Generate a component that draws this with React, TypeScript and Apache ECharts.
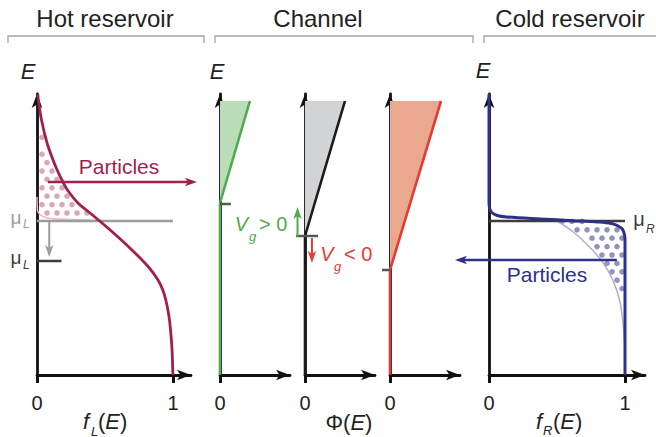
import React, { useEffect, useRef } from 'react';
import * as echarts from 'echarts';

type P = [number, number];

// ---------------- data (E: energy, arbitrary units up from the f axis; f / Φ dimensionless) ----------------
// Hot reservoir: broad Fermi occupation f_L(E)
const hotFermi: P[] = [
  [0.006, 281], [0.01, 275], [0.033, 255], [0.074, 232], [0.118, 215], [0.158, 202], [0.191, 193],
  [0.224, 185], [0.301, 172], [0.39, 162], [0.478, 152], [0.596, 138], [0.721, 122], [0.82, 108],
  [0.89, 95], [0.925, 85], [0.947, 75], [0.969, 60], [0.982, 45], [0.993, 25], [0.999, 0],
];
// Hot reservoir: faint reference (cold) occupation at the original μ_L
const hotColdRef: P[] = [[0, 178], [0.003, 165], [0.044, 158.5], [0.118, 156.3], [0.22, 155.7], [0.37, 155], [0.46, 154.5]];
// Cold reservoir: sharp Fermi occupation f_R(E)
const coldFermi: P[] = [
  [0, 281], [0, 175], [0.001, 170], [0.006, 166], [0.02, 162.5], [0.06, 159.5], [0.13, 158], [0.375, 156],
  [0.62, 154.3], [0.8, 153], [0.9, 151.5], [0.95, 149], [0.98, 146], [0.995, 141], [1, 135], [1, 0],
];
// Cold reservoir: faint reference (hot) occupation below μ_R
const coldHotRef: P[] = [[0.5, 154], [0.62, 143], [0.74, 128], [0.84, 112], [0.91, 95], [0.96, 75], [0.985, 52], [1.0, 25]];

const muL = 154;          // original chemical potential, hot side
const muLShifted = 114;   // lowered chemical potential, hot side
const muR = 154;          // chemical potential, cold side
const hotParticlesE = 193;
const coldParticlesE = 115;

// Channel transmission Φ(E): zero below threshold, linear above
const channelThreshold = [172, 139, 105];
const channelTopE = 274;
const channelTopPhi = [0.22, 0.294, 0.375];

const fTicks = [0, 1];
const phiTicks = [0];

// ---------------- styling ----------------
const FONT = "'Liberation Sans', Arial, Helvetica, sans-serif";
const CRIMSON = '#a11f4f';
const HOT_LIGHT = '#e8bcc4';
const HOT_DOT = '#dba7b1';
const BLUE = '#2e3184';
const COLD_LIGHT = '#aeaed3';
const COLD_DOT = '#9292c0';
const GREEN = '#4fab4c';
const GREEN_FILL = '#badcb6';
const GRAY_FILL = '#d2d3d5';
const RED = '#e23c36';
const RED_FILL = '#eaa98e';
const MU_GRAY = '#9c9c9c';
const DARK = '#3d3d3d';
const AXIS = '#111';

const PX_PER_UNIT = 136;
const GRID_TOP = 94;
const GRID_BOTTOM = 62;
const panels = [
  { left: 37, width: 154, ticks: fTicks },
  { left: 220, width: 70, ticks: phiTicks },
  { left: 305, width: 70, ticks: phiTicks },
  { left: 390, width: 70, ticks: phiTicks },
  { left: 489, width: 156, ticks: fTicks },
];
const E_MAX = 281;

type Seg = { from: P; to: P; color: string; width: number; arrow?: boolean };

function inside(x: number, y: number, pts: number[][]) {
  let c = false;
  for (let i = 0, j = pts.length - 1; i < pts.length; j = i++) {
    const xi = pts[i][0], yi = pts[i][1], xj = pts[j][0], yj = pts[j][1];
    if ((yi > y) !== (yj > y) && x < ((xj - xi) * (y - yi)) / (yj - yi) + xi) c = !c;
  }
  return c;
}

function dotsRender(poly: P[], color: string) {
  return (_params: any, api: any) => {
    const pts = poly.map((p) => api.coord(p));
    let minX = Infinity, maxX = -Infinity, minY = Infinity, maxY = -Infinity;
    pts.forEach((p: number[]) => {
      minX = Math.min(minX, p[0]); maxX = Math.max(maxX, p[0]);
      minY = Math.min(minY, p[1]); maxY = Math.max(maxY, p[1]);
    });
    const dx = 10, dy = 8.4, r = 2.8;
    const children: any[] = [];
    for (let k = Math.floor(minY / dy); k * dy <= maxY; k++) {
      const y = k * dy + 3;
      const off = k % 2 === 0 ? 0 : dx / 2;
      for (let m = Math.floor(minX / dx) - 1; m * dx <= maxX + dx; m++) {
        const x = m * dx + off + 2;
        if (inside(x, y, pts) && inside(x - r * 0.8, y, pts) && inside(x + r * 0.8, y, pts)) {
          children.push({ type: 'circle', shape: { cx: x, cy: y, r }, style: { fill: color } });
        }
      }
    }
    return { type: 'group', children };
  };
}

function polyRender(poly: P[], fill: string) {
  return (_params: any, api: any) => ({
    type: 'polygon',
    shape: { points: poly.map((p) => api.coord(p)) },
    style: { fill },
  });
}

function segRender(segs: Seg[]) {
  return (params: any, api: any) => {
    const s = segs[params.dataIndex];
    const a = api.coord(s.from);
    const b = api.coord(s.to);
    const children: any[] = [];
    let end = b;
    if (s.arrow) {
      const dx = b[0] - a[0], dy = b[1] - a[1];
      const len = Math.hypot(dx, dy) || 1;
      const ux = dx / len, uy = dy / len;
      const L = 12, W = 4.2, N = 3;
      const bx = b[0] - ux * L, by = b[1] - uy * L;
      const px = -uy, py = ux;
      const notch = [b[0] - ux * (L - N), b[1] - uy * (L - N)];
      children.push({
        type: 'polygon',
        shape: { points: [b, [bx + px * W, by + py * W], notch, [bx - px * W, by - py * W]] },
        style: { fill: s.color },
      });
      end = notch;
    }
    children.unshift({
      type: 'line',
      shape: { x1: a[0], y1: a[1], x2: end[0], y2: end[1] },
      style: { stroke: s.color, lineWidth: s.width },
    });
    return { type: 'group', children };
  };
}

function segSeries(idx: number, segs: Seg[], z: number) {
  return {
    type: 'custom', xAxisIndex: idx, yAxisIndex: idx, z, silent: true, clip: false,
    renderItem: segRender(segs),
    data: segs.map((s) => [s.from[0], s.from[1]]),
  };
}

function lineSeries(idx: number, data: P[], color: string, width: number, z: number, smooth: number | boolean) {
  return {
    type: 'line', xAxisIndex: idx, yAxisIndex: idx, z, silent: true, data,
    symbol: 'none', smooth, lineStyle: { color, width, cap: 'butt', join: 'round' },
  };
}

function label(x: number, y: number, text: string, o: any = {}) {
  const align = o.align ?? 'center';
  const style: any = {
    text, fontFamily: FONT, fontSize: o.size ?? 20, fontStyle: o.italic ? 'italic' : 'normal',
    fill: o.color ?? '#222', align, verticalAlign: 'middle', textAlign: align, textVerticalAlign: 'middle',
  };
  if (o.rich) style.rich = o.rich;
  return { type: 'text', x, y, style, silent: true, z: 10 };
}

function bracket(points: number[][]) {
  return { type: 'polyline', shape: { points }, style: { stroke: '#a3a3a3', lineWidth: 1.3, fill: 'none' }, silent: true };
}

function buildOption() {
  const grid = panels.map((p) => ({ left: p.left, width: p.width, top: GRID_TOP, bottom: GRID_BOTTOM, containLabel: false }));
  const axisLine = { show: true, onZero: false, symbol: ['none', 'arrow'], symbolSize: [8, 14], lineStyle: { color: AXIS, width: 2.8 } };
  const xAxis = panels.map((p, i) => ({
    type: 'value', gridIndex: i, min: 0, max: p.width / PX_PER_UNIT,
    axisLine,
    axisTick: { show: true, customValues: p.ticks, length: 8, lineStyle: { color: AXIS, width: 3 } },
    axisLabel: { show: true, customValues: p.ticks, margin: 18, fontSize: 20, color: '#222', fontFamily: FONT, formatter: (v: number) => String(v) },
    splitLine: { show: false },
  }));
  const yAxis = panels.map((_p, i) => ({
    type: 'value', gridIndex: i, min: 0, max: E_MAX,
    axisLine, axisTick: { show: false }, axisLabel: { show: false }, splitLine: { show: false },
  }));

  const series: any[] = [];

  // ---- Hot reservoir ----
  const hotPoly: P[] = [[0, E_MAX], ...hotFermi.filter((p) => p[1] > 154.6), [0.468, 154.5], ...[...hotColdRef].reverse()];
  series.push({ type: 'custom', xAxisIndex: 0, yAxisIndex: 0, z: 1, silent: true, renderItem: dotsRender(hotPoly, HOT_DOT), data: [[0, 0]] });
  series.push(lineSeries(0, hotColdRef, HOT_LIGHT, 1.5, 2, 0.4));
  series.push(segSeries(0, [
    { from: [0, muL], to: [1, muL], color: MU_GRAY, width: 2.5 },
    { from: [0, muLShifted], to: [0.18, muLShifted], color: DARK, width: 2.5 },
    { from: [0.09, muL], to: [0.09, muLShifted + 4], color: MU_GRAY, width: 2, arrow: true },
  ], 3));
  series.push(lineSeries(0, hotFermi, CRIMSON, 2.8, 4, 0.3));
  series.push(segSeries(0, [{ from: [0.08, hotParticlesE], to: [1.176, hotParticlesE], color: CRIMSON, width: 2.5, arrow: true }], 5));

  // ---- Channel panels ----
  const chColors = [GREEN, '#1a1a1a', RED];
  const chFills = [GREEN_FILL, GRAY_FILL, RED_FILL];
  for (let c = 0; c < 3; c++) {
    const gi = c + 1;
    const thr = channelThreshold[c];
    const top = channelTopPhi[c];
    series.push({
      type: 'custom', xAxisIndex: gi, yAxisIndex: gi, z: 1, silent: true,
      renderItem: polyRender([[0, thr], [top, channelTopE], [0, channelTopE]], chFills[c]), data: [[0, 0]],
    });
    series.push(lineSeries(gi, [[0, 0], [0, thr], [top, channelTopE]], chColors[c], 2.6, 3, false));
  }
  series.push(segSeries(1, [{ from: [0, channelThreshold[0] - 1], to: [0.08, channelThreshold[0] - 1], color: '#555', width: 2.5 }], 4));
  series.push(segSeries(2, [
    { from: [-0.066, channelThreshold[1]], to: [0.096, channelThreshold[1]], color: '#555', width: 2.5 },
    { from: [-0.055, channelThreshold[1] - 1], to: [-0.055, channelThreshold[0] - 4], color: GREEN, width: 2, arrow: true },
    { from: [0.051, channelThreshold[1] - 2], to: [0.051, channelThreshold[2] + 7], color: RED, width: 2, arrow: true },
  ], 4));
  series.push(segSeries(3, [{ from: [-0.059, channelThreshold[2]], to: [0, channelThreshold[2]], color: '#555', width: 2.5 }], 4));

  // ---- Cold reservoir ----
  const coldPoly: P[] = [...coldHotRef, ...[...coldFermi].reverse().filter((p) => p[1] > 130 && p[1] < 154.5)];
  series.push({ type: 'custom', xAxisIndex: 4, yAxisIndex: 4, z: 1, silent: true, renderItem: dotsRender(coldPoly, COLD_DOT), data: [[0, 0]] });
  series.push(lineSeries(4, coldHotRef, COLD_LIGHT, 1.5, 2, 0.4));
  series.push(segSeries(4, [{ from: [0, muR], to: [1, muR], color: DARK, width: 2.5 }], 3));
  series.push(lineSeries(4, coldFermi, BLUE, 3, 4, 0.35));
  series.push(segSeries(4, [{ from: [0.94, coldParticlesE], to: [-0.25, coldParticlesE], color: BLUE, width: 2.5, arrow: true }], 5));

  const richE = { i: { fontFamily: FONT, fontSize: 22, fontStyle: 'italic', fill: '#222' } };
  const graphic: any[] = [
    bracket([[8, 43], [8, 36], [204, 36], [204, 43]]),
    bracket([[215, 43], [215, 36], [473, 36], [473, 43]]),
    bracket([[484, 43], [484, 36], [660, 36]]),
    label(105, 18.5, 'Hot reservoir', { size: 24 }),
    label(318, 18.5, 'Channel', { size: 24 }),
    label(570, 18.5, 'Cold reservoir', { size: 24 }),
    label(28, 71, 'E', { size: 22, italic: true }),
    label(217, 71, 'E', { size: 22, italic: true }),
    label(483, 70, 'E', { size: 22, italic: true }),
    label(119, 166, 'Particles', { size: 21, color: CRIMSON }),
    label(547, 274.5, 'Particles', { size: 21, color: BLUE }),
    label(16, 217, 'μ', { size: 19, color: MU_GRAY }),
    label(23, 224, 'L', { size: 12, italic: true, color: MU_GRAY, align: 'left' }),
    label(16, 257, 'μ', { size: 19, color: DARK }),
    label(23, 265, 'L', { size: 12, italic: true, color: DARK, align: 'left' }),
    label(639, 219, 'μ', { size: 20, color: DARK }),
    label(646, 229, 'R', { size: 12, italic: true, color: DARK, align: 'left' }),
    label(241.5, 224, 'V', { size: 20, italic: true, color: GREEN }),
    label(252.5, 236.5, 'g', { size: 13, italic: true, color: GREEN }),
    label(259, 224, '> 0', { size: 20, color: GREEN, align: 'left' }),
    label(327, 253.5, 'V', { size: 20, italic: true, color: RED }),
    label(337.5, 266, 'g', { size: 13, italic: true, color: RED }),
    label(344, 253.5, '< 0', { size: 20, color: RED, align: 'left' }),
    label(86, 421.5, 'f', { size: 22, italic: true }),
    label(91, 431, 'L', { size: 13, italic: true, align: 'left' }),
    label(98, 421.5, '({i|E})', { size: 22, align: 'left', rich: richE }),
    label(349, 422, 'Φ({i|E})', { size: 22, rich: richE }),
    label(539, 421.5, 'f', { size: 22, italic: true }),
    label(543, 430.5, 'R', { size: 13, italic: true, align: 'left' }),
    label(553, 421.5, '({i|E})', { size: 22, align: 'left', rich: richE }),
  ];

  return { animation: false, backgroundColor: '#ffffff', grid, xAxis, yAxis, series, graphic };
}

export default function App() {
  const ref = useRef<HTMLDivElement>(null);
  useEffect(() => {
    if (!ref.current) return;
    const chart = echarts.init(ref.current, null, { renderer: 'svg', width: 656, height: 437 });
    chart.setOption(buildOption() as any);
    return () => chart.dispose();
  }, []);
  return <div ref={ref} style={{ position: 'fixed', left: 0, top: 0, width: 656, height: 437, background: '#fff' }} />;
}
